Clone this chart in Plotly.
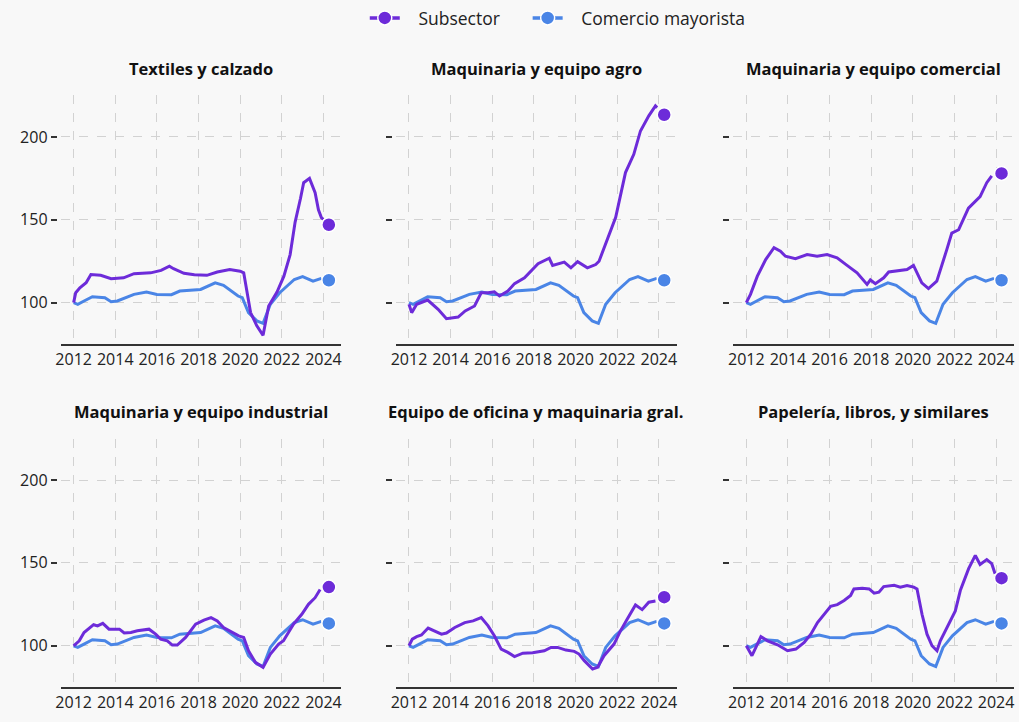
import plotly.graph_objects as go

# ---------------- data ----------------
titles = ["Textiles y calzado", "Maquinaria y equipo agro", "Maquinaria y equipo comercial",
          "Maquinaria y equipo industrial", "Equipo de oficina y maquinaria gral.",
          "Papelería, libros, y similares"]
series_names = ["Subsector", "Comercio mayorista"]

com_x = [2012.0, 2012.2, 2012.5, 2012.9, 2013.5, 2013.8, 2014.1, 2014.9, 2015.5, 2016.0, 2016.7,
         2017.1, 2018.1, 2018.8, 2019.2, 2019.9, 2020.1, 2020.4, 2020.8, 2021.1, 2021.45, 2021.9,
         2022.6, 2023.0, 2023.5, 2023.9]
com_y = [100, 99, 101, 103.6, 103, 100.6, 101, 105, 106.4, 105, 104.8,
         107, 108, 112, 110.5, 104, 103, 94, 89, 87.5, 99, 106,
         114, 115.7, 113, 114.7]
com_last = 113.5

s1_x = [2012.0, 2012.1, 2012.3, 2012.6, 2012.83, 2013.3, 2013.8, 2014.4, 2014.9, 2015.7, 2016.2,
        2016.6, 2016.8, 2017.3, 2017.8, 2018.4, 2018.9, 2019.5, 2020.0, 2020.17, 2020.5, 2020.8,
        2021.1, 2021.37, 2021.77, 2022.1, 2022.4, 2022.64, 2022.9, 2023.05, 2023.33, 2023.6,
        2023.76, 2023.9, 2024.0]
s1_y = [100, 106, 109, 112, 117, 116.5, 114.5, 115, 117.5, 118, 119.5,
        122, 120.5, 117.7, 116.8, 116.5, 118.5, 120, 119, 118, 94, 86,
        80.3, 98, 106.4, 116, 129, 148.6, 163, 172.4, 175, 166.4,
        156, 151.3, 150.3]

s2_x = [2012.0, 2012.13, 2012.37, 2012.77, 2012.9, 2013.4, 2013.8, 2014.36, 2014.7, 2015.15, 2015.47,
        2015.8, 2016.1, 2016.35, 2016.75, 2017.07, 2017.55, 2018.2, 2018.74, 2018.9, 2019.46, 2019.78,
        2020.1, 2020.57, 2020.97, 2021.13, 2021.53, 2021.93, 2022.4, 2022.8, 2023.12, 2023.52,
        2023.84, 2023.92]
s2_y = [99, 94, 99, 101, 101.6, 96, 90.3, 91.3, 95, 98, 106,
        106, 106.6, 104, 107, 111.5, 115, 123.5, 126.8, 122.5, 124.5, 121,
        124.7, 121, 123, 125, 138, 151.5, 178.5, 189.5, 203.6, 212.7,
        218.7, 217.7]

s3_x = [2012.0, 2012.2, 2012.53, 2012.93, 2013.33, 2013.64, 2013.88, 2014.36, 2014.92, 2015.4, 2015.88,
        2016.36, 2016.84, 2017.32, 2017.8, 2017.96, 2018.2, 2018.6, 2018.84, 2019.24, 2019.72, 2020.03,
        2020.43, 2020.75, 2021.15, 2021.63, 2021.87, 2022.2, 2022.67, 2023.23, 2023.55, 2023.79]
s3_y = [100, 105, 116, 126, 133.2, 131, 128, 126.5, 129, 128, 129,
        127, 122.5, 118, 111, 113.7, 111.5, 115, 118.5, 119, 120, 122.5,
        112, 108.5, 113, 132, 142, 144, 157, 164, 172.4, 176.5]

s4_x = [2012.0, 2012.27, 2012.5, 2012.96, 2013.15, 2013.4, 2013.7, 2014.2, 2014.43, 2014.75, 2015.06,
        2015.62, 2015.94, 2016.18, 2016.5, 2016.74, 2016.98, 2017.38, 2017.86, 2018.26, 2018.6, 2018.9,
        2019.2, 2019.6, 2019.93, 2020.17, 2020.4, 2020.73, 2021.1, 2021.45, 2021.85, 2022.08, 2022.56,
        2022.96, 2023.28, 2023.6, 2023.84]
s4_y = [100, 103, 108, 112.7, 112, 113.5, 110, 110, 107.7, 108, 109,
        110, 107, 104, 103, 100.4, 100.4, 105, 113, 115.5, 117, 115,
        111, 108, 106, 105, 97, 90, 87, 95, 101, 103, 113,
        119, 125, 129, 134]

s5_x = [2012.0, 2012.16, 2012.37, 2012.6, 2012.92, 2013.24, 2013.56, 2013.8, 2014.2, 2014.68, 2015.08,
        2015.47, 2015.8, 2016.1, 2016.43, 2016.75, 2017.07, 2017.47, 2017.94, 2018.5, 2018.82, 2019.14,
        2019.54, 2019.94, 2020.17, 2020.42, 2020.82, 2021.06, 2021.37, 2021.85, 2022.16, 2022.48,
        2022.88, 2023.2, 2023.52, 2023.84]
s5_y = [100, 104, 105.5, 106.5, 110.7, 108.7, 107, 107.7, 111, 114, 115,
        117, 112, 106, 98, 96, 93.5, 95.5, 95.8, 97, 99, 99,
        97.4, 96.6, 95, 91, 86, 87, 94, 101, 109, 116,
        124.6, 121.8, 126.3, 127]

s6_x = [2012.0, 2012.14, 2012.27, 2012.46, 2012.7, 2013.02, 2013.5, 2013.98, 2014.38, 2014.78, 2015.1,
        2015.42, 2015.73, 2016.05, 2016.37, 2016.7, 2017.01, 2017.17, 2017.57, 2017.9, 2018.14, 2018.37,
        2018.6, 2019.1, 2019.4, 2019.72, 2020.04, 2020.2, 2020.44, 2020.68, 2020.92, 2021.16, 2021.32,
        2021.72, 2022.04, 2022.28, 2022.68, 2023.0, 2023.23, 2023.55, 2023.79, 2023.95]
s6_y = [100, 97, 94, 99, 105.5, 103, 100.6, 97, 98, 102, 107,
        114, 119, 123.8, 124.8, 127.3, 130.3, 134.3, 134.7, 134.3, 131.7, 132.3,
        135.7, 136.5, 135.4, 136.4, 135.4, 134.3, 119, 107, 100, 97, 103,
        113, 121, 133.3, 146.5, 154.5, 149, 152, 149.5, 143.4]

sub_x = [s1_x, s2_x, s3_x, s4_x, s5_x, s6_x]
sub_y = [s1_y, s2_y, s3_y, s4_y, s5_y, s6_y]
sub_last = [147, 213.4, 178, 135.4, 129.3, 140.8]
last_x = 2024.26

year_ticks = [2012, 2014, 2016, 2018, 2020, 2022, 2024]
y_ticks = [100, 150, 200]

# ---------------- styling ----------------
PURPLE = "#6d2bd9"
BLUE = "#4a85e6"
W, H = 1019, 722
FONT = "Open Sans"
NB = "\u00a0"

col_px = [(56, 338), (393, 675), (732, 1014)]
row_px = [(92, 342), (437, 687)]

fig = go.Figure()
layout = {}
annotations = []
for i in range(6):
    r, c = divmod(i, 3)
    n = "" if i == 0 else str(i + 1)
    x0, x1 = col_px[c]
    y0, y1 = row_px[r]
    xd = [x0 / W, x1 / W]
    yd = [1 - y1 / H, 1 - y0 / H]
    xa = "x" + n
    ya = "y" + n
    layout["xaxis" + n] = dict(
        domain=xd, anchor=ya, range=[2011.38, 2024.86], tickmode="array", tickvals=year_ticks,
        showline=True, linecolor="#333333", linewidth=2, ticks="",
        showgrid=True, gridcolor="#d2d2d2", griddash="dash", gridwidth=1, zeroline=False,
        tickfont=dict(size=16, color="#222222", family=FONT), fixedrange=True)
    layout["yaxis" + n] = dict(
        domain=yd, anchor="free", position=(x0 - 4) / W, range=[75, 225],
        tickmode="array", tickvals=y_ticks, showticklabels=(c == 0),
        ticks="outside", ticklen=6, tickwidth=2, tickcolor="#333333",
        showline=False, showgrid=True, gridcolor="#d2d2d2", griddash="dash", gridwidth=1,
        zeroline=False, tickfont=dict(size=16, color="#222222", family=FONT), fixedrange=True)

    fig.add_trace(go.Scatter(x=com_x, y=com_y, mode="lines", line=dict(color=BLUE, width=3),
                             xaxis=xa, yaxis=ya, showlegend=False, hoverinfo="skip"))
    fig.add_trace(go.Scatter(x=sub_x[i], y=sub_y[i], mode="lines", line=dict(color=PURPLE, width=3),
                             xaxis=xa, yaxis=ya, showlegend=False, hoverinfo="skip"))
    fig.add_trace(go.Scatter(x=[last_x], y=[com_last], mode="lines+markers",
                             line=dict(color=BLUE, width=3.5),
                             marker=dict(color=BLUE, size=14, line=dict(color="white", width=1.5)),
                             xaxis=xa, yaxis=ya, name=NB * 3 + series_names[1], legendgroup="c",
                             legendrank=2, showlegend=(i == 0)))
    fig.add_trace(go.Scatter(x=[last_x], y=[sub_last[i]], mode="lines+markers",
                             line=dict(color=PURPLE, width=3.5),
                             marker=dict(color=PURPLE, size=14, line=dict(color="white", width=1.5)),
                             xaxis=xa, yaxis=ya, name=NB * 3 + series_names[0] + NB * 5,
                             legendgroup="s", legendrank=1, showlegend=(i == 0)))

    annotations.append(dict(text="<b>" + titles[i] + "</b>", x=(x0 + x1) / 2 / W,
                            y=1 - (y0 - 27) / H, xref="paper", yref="paper",
                            xanchor="center", yanchor="middle", showarrow=False,
                            font=dict(size=16.5, color="#111111", family=FONT)))

fig.update_layout(**layout)
fig.update_layout(
    width=W, height=H, margin=dict(l=0, r=0, t=0, b=0),
    paper_bgcolor="#f8f8f8", plot_bgcolor="rgba(0,0,0,0)",
    font=dict(family=FONT, size=15, color="#222222"),
    annotations=annotations,
    legend=dict(orientation="h", x=0.5 + 46 / W, xanchor="center", y=1 - 14 / H, yanchor="middle",
                font=dict(size=17.5, color="#222222", family=FONT), bgcolor="rgba(0,0,0,0)",
                traceorder="normal"),
    showlegend=True,
)
fig.write_html("out.html", config={"displayModeBar": False},
               post_script="document.body.style.margin='0';document.body.style.overflow='hidden';")
